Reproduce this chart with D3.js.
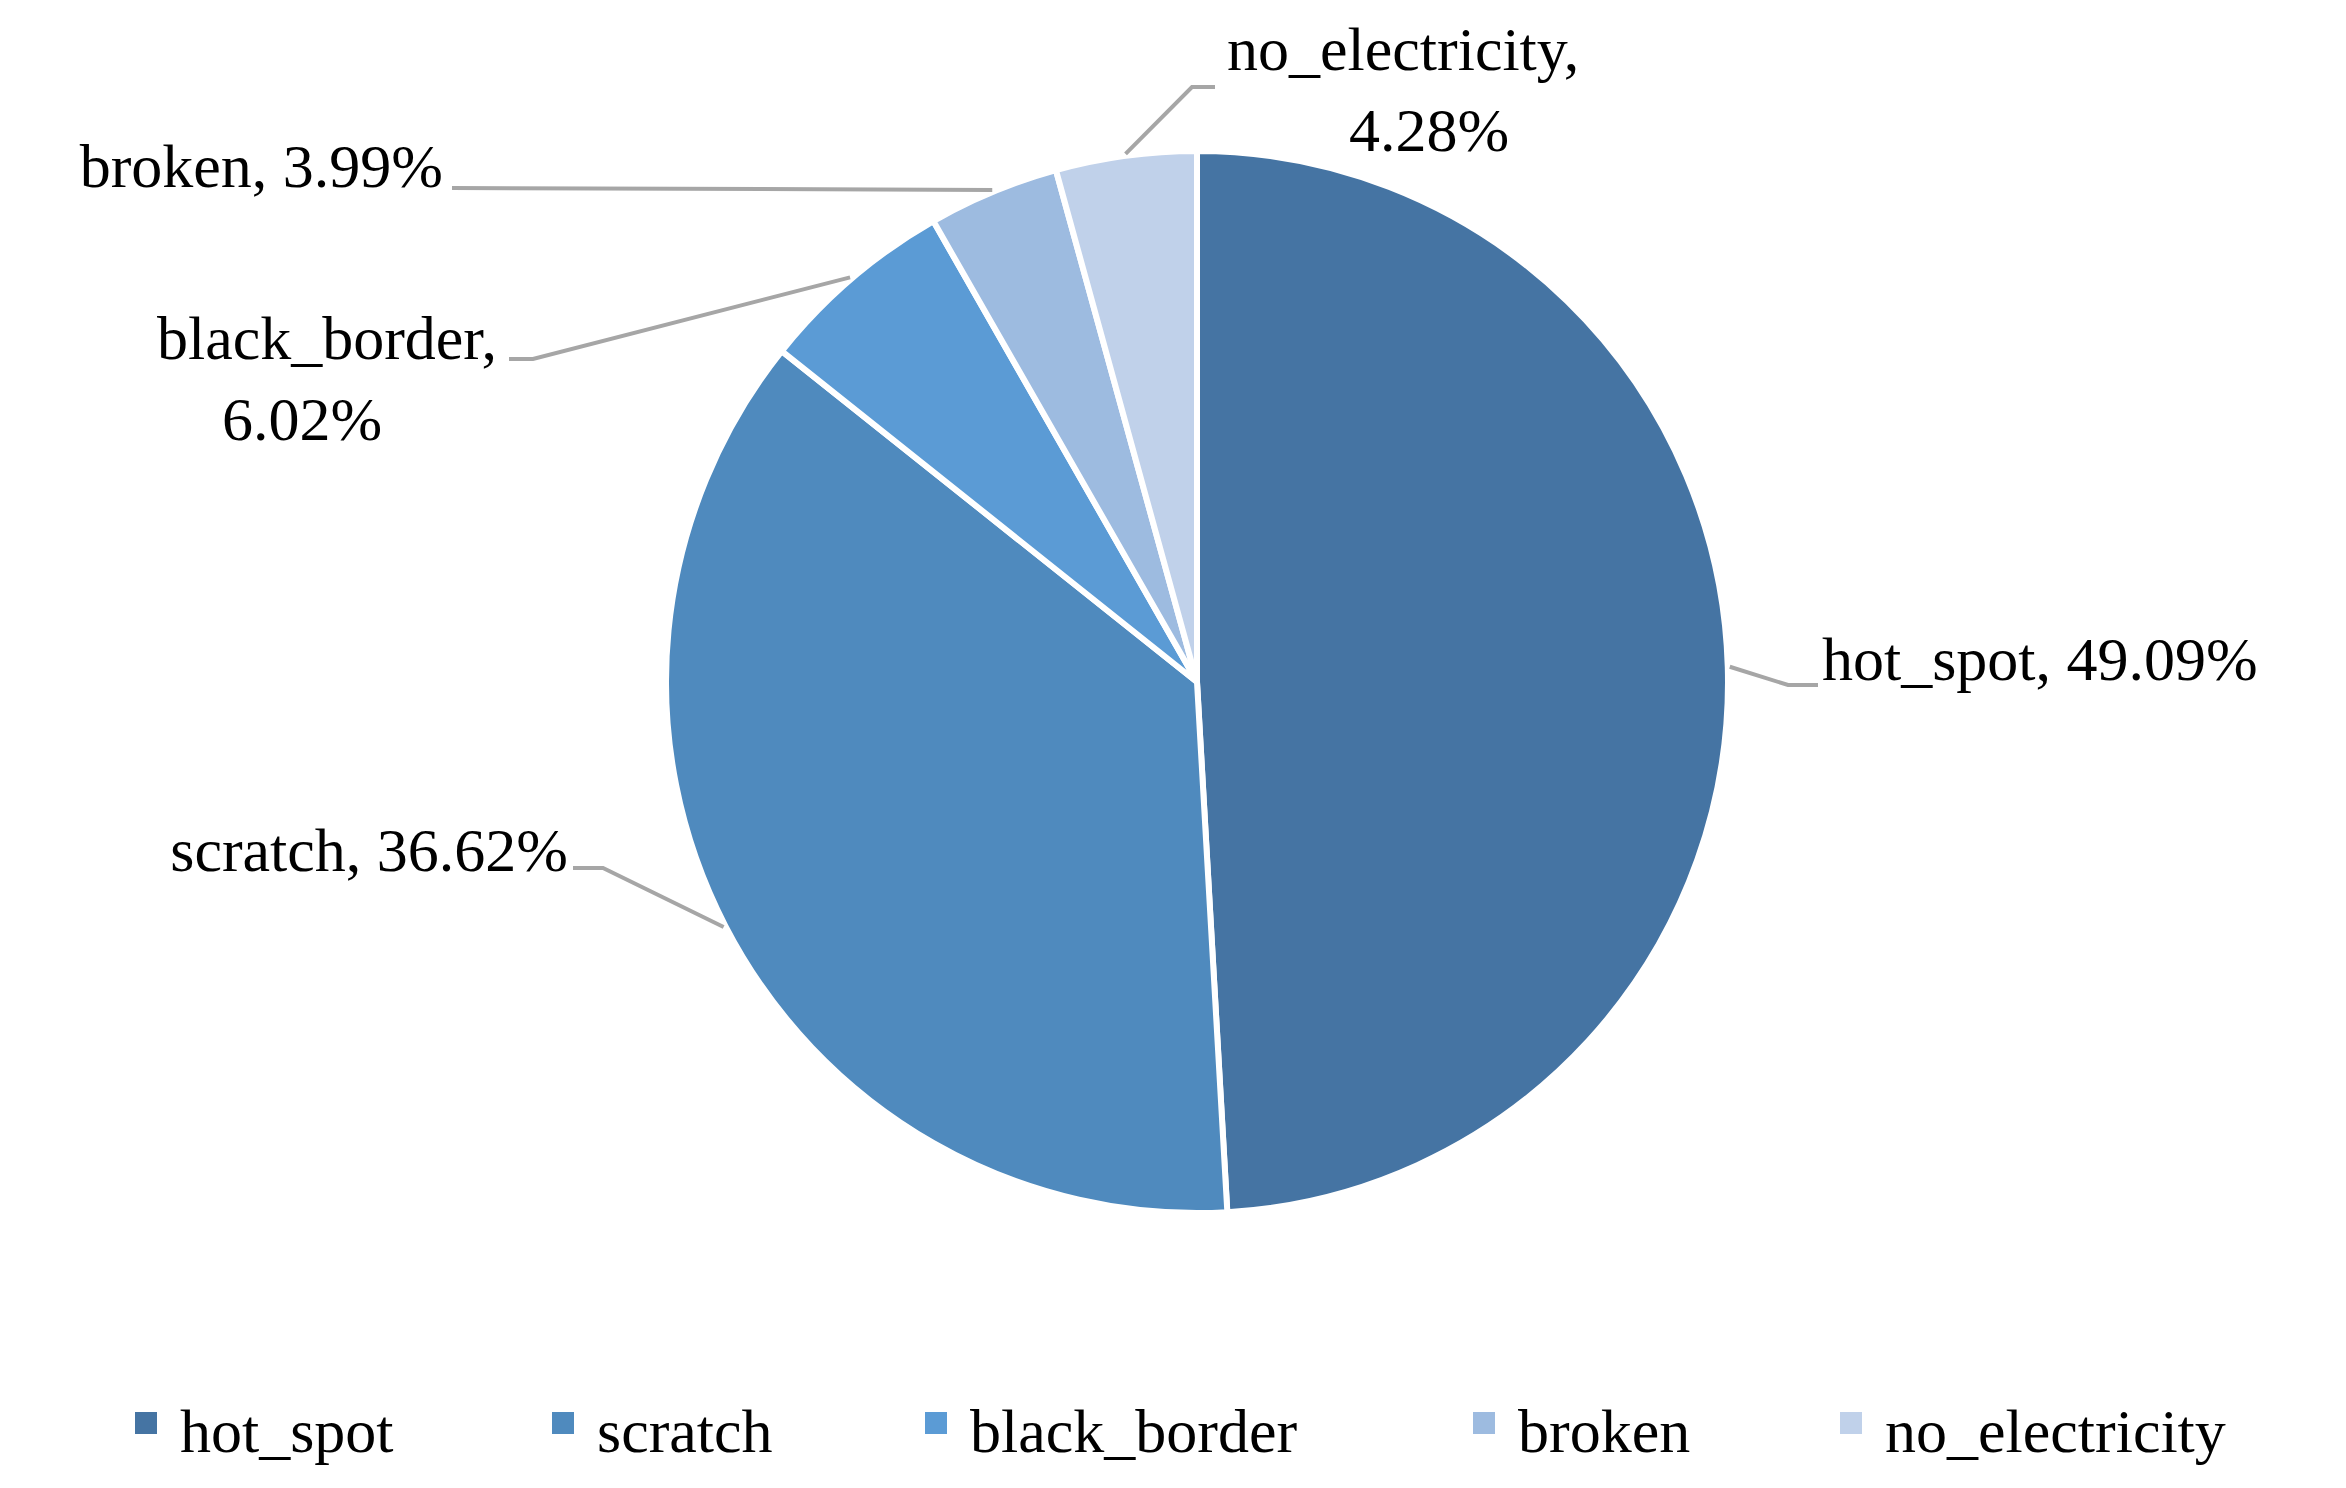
<!DOCTYPE html><html><head><meta charset="utf-8"><script src="https://cdn.jsdelivr.net/npm/d3@7"></script>
<style>body{margin:0;background:#fff}</style></head><body><svg id="c" width="2346" height="1488"></svg><script>
const categories=["hot_spot","scratch","black_border","broken","no_electricity"];
const values=[49.09,36.62,6.02,3.99,4.28];
const colors=["#4574a3","#4f8abe","#5b9bd5","#9dbbe0","#c0d1ea"];
const svg=d3.select("#c");
const cx=1197,cy=682,R=531;
const pie=d3.pie().sort(null).value(d=>d)(values);
const arc=d3.arc().innerRadius(0).outerRadius(R);
const g=svg.append("g").attr("transform",`translate(${cx},${cy})`);
g.selectAll("path").data(pie).join("path").attr("d",arc).attr("fill",(d,i)=>colors[i]).attr("stroke","#fff").attr("stroke-width",6).attr("stroke-linejoin","round");
// label layout: [elbow x,y, end x,y, text lines, anchor, line positions]
const L=[
 {pts:[[1788,685],[1818,685]],lines:[["hot_spot, 49.09%",1822,680,"start"]]},
 {pts:[[603,868],[573,868]],lines:[["scratch, 36.62%",568,871,"end"]]},
 {pts:[[533,359],[509,359]],lines:[["black_border,",497,359,"end"],["6.02%",302,440,"middle"]]},
 {pts:[[452,188]],lines:[["broken, 3.99%",443,187,"end"]]},
 {pts:[[1192,87],[1215,87]],lines:[["no_electricity,",1227,70,"start"],["4.28%",1429,151,"middle"]]}
];
const font="'Liberation Serif','Times New Roman',serif";
pie.forEach((d,i)=>{
  const a=(d.startAngle+d.endAngle)/2;
  const s=[cx+Math.sin(a)*(R+2),cy-Math.cos(a)*(R+2)];
  svg.append("polyline").attr("points",[s,...L[i].pts].map(p=>p.join(",")).join(" ")).attr("fill","none").attr("stroke","#a6a6a6").attr("stroke-width",4);
  L[i].lines.forEach(([t,x,y,an])=>svg.append("text").attr("x",x).attr("y",y).attr("text-anchor",an).attr("font-family",font).attr("font-size",62).attr("fill","#000").text(t));
});
const lx=[145,562,935,1483,1850];
const lg=svg.append("g");
categories.forEach((c,i)=>{
  lg.append("rect").attr("x",lx[i]-10).attr("y",1412).attr("width",22).attr("height",22).attr("fill",colors[i]);
  lg.append("text").attr("x",lx[i]+35).attr("y",1452).attr("font-family",font).attr("font-size",62).text(c);
});
</script></body></html>
